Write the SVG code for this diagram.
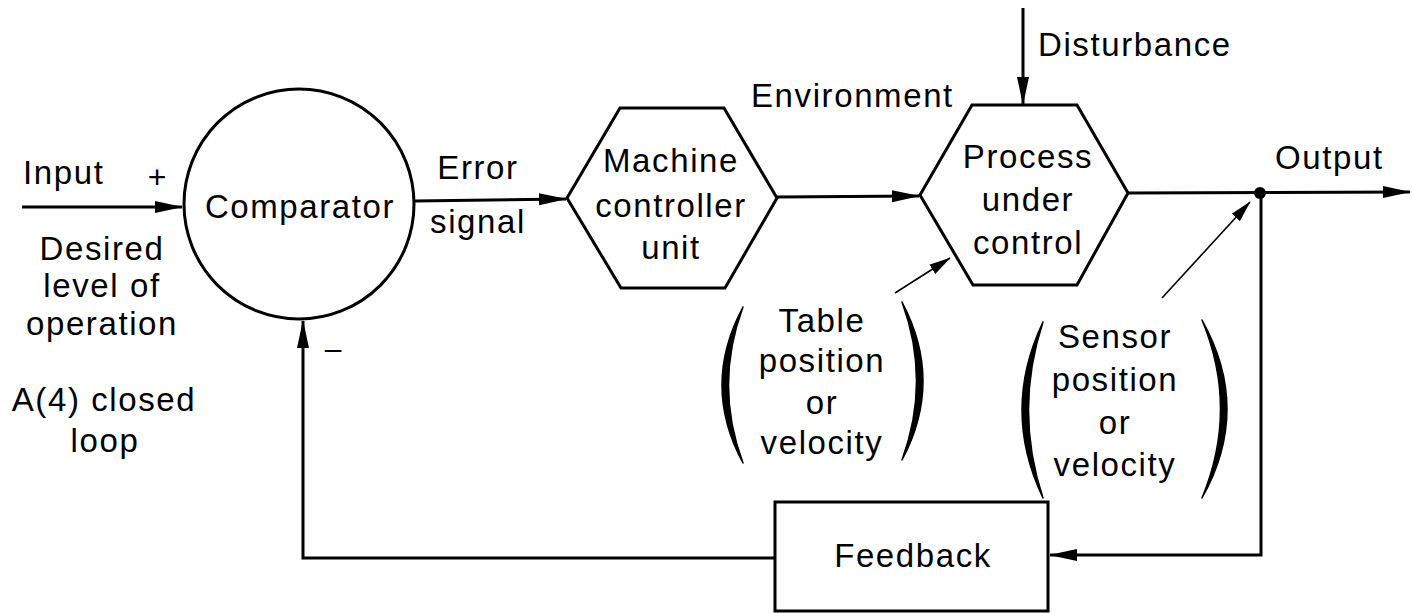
<svg xmlns="http://www.w3.org/2000/svg" width="1414" height="613" viewBox="0 0 1414 613">
  <style>
    .t { font-family: "Liberation Sans", Arial, sans-serif; font-size: 33px; letter-spacing: 1.6px; fill: #000; }
    .c { text-anchor: middle; }
    .shape { fill: none; stroke: #000; stroke-width: 3; }
    .line { fill: none; stroke: #000; stroke-width: 3; }
    .thin { fill: none; stroke: #000; stroke-width: 1.6; }
    .paren { fill: #000; stroke: #000; stroke-width: 1.5; stroke-linejoin: round; }
  </style>
  <defs>
    <marker id="arr" markerUnits="userSpaceOnUse" markerWidth="28" markerHeight="14" refX="27" refY="7" orient="auto">
      <path d="M0,1 L28,7 L0,13 Z" fill="#000"/>
    </marker>
    <marker id="arrThin" markerUnits="userSpaceOnUse" markerWidth="22" markerHeight="12" refX="21" refY="6" orient="auto">
      <path d="M0,0.5 L22,6 L0,11.5 Z" fill="#000"/>
    </marker>
  </defs>
  <rect width="1414" height="613" fill="#fff"/>

  <g id="connectors">
    <path class="line" d="M22,207 L182,207" marker-end="url(#arr)"/>
    <path class="line" d="M415,201 L566,199" marker-end="url(#arr)"/>
    <path class="line" d="M777,197 L919,196" marker-end="url(#arr)"/>
    <path class="line" d="M1128,193 L1410,192" marker-end="url(#arr)"/>
    <path class="line" d="M1023,8 L1023,104" marker-end="url(#arr)"/>
    <path class="line" d="M1261,193 L1261,555 L1050,555" marker-end="url(#arr)"/>
    <path class="line" d="M775,558 L303,558 L303,321" marker-end="url(#arr)"/>
    <path class="thin" d="M895,293 L950,258" marker-end="url(#arrThin)"/>
    <path class="thin" d="M1162,298 L1250,202" marker-end="url(#arrThin)"/>
    <circle cx="1260" cy="193" r="6" fill="#000"/>
  </g>

  <g id="comparator">
    <circle class="shape" cx="299" cy="204" r="115"/>
    <text class="t c" x="300" y="218">Comparator</text>
  </g>

  <g id="machine-controller">
    <polygon class="shape" points="567,198 620,108 724,108 777,198 725,288 621,288"/>
    <text class="t c" x="671" y="172">Machine</text>
    <text class="t c" x="671" y="217">controller</text>
    <text class="t c" x="671" y="259">unit</text>
  </g>

  <g id="process">
    <polygon class="shape" points="920,195 972,105 1077,105 1128,193 1077,285 973,285"/>
    <text class="t c" x="1028" y="168">Process</text>
    <text class="t c" x="1028" y="211">under</text>
    <text class="t c" x="1028" y="254">control</text>
  </g>

  <g id="feedback">
    <rect class="shape" x="775" y="502" width="273" height="109"/>
    <text class="t c" x="913" y="567">Feedback</text>
  </g>

  <g id="labels">
    <text class="t" x="23" y="184">Input</text>
    <text class="t c" x="158" y="188" style="font-size:32px">+</text>
    <text class="t c" x="102" y="260">Desired</text>
    <text class="t c" x="102" y="297">level of</text>
    <text class="t c" x="102" y="335">operation</text>
    <text class="t c" x="104" y="411">A(4) closed</text>
    <text class="t c" x="105" y="452">loop</text>
    <text class="t c" x="334" y="359" style="font-size:30px">–</text>
    <text class="t c" x="478" y="179">Error</text>
    <text class="t c" x="478" y="233">signal</text>
    <text class="t" x="751" y="107">Environment</text>
    <text class="t" x="1038" y="56">Disturbance</text>
    <text class="t" x="1275" y="169">Output</text>
  </g>

  <g id="table-note">
    <path class="paren" d="M743,307 Q701,385 743,463 Q714,385 743,307 Z"/>
    <path class="paren" d="M902,302 Q944,381 902,460 Q931,381 902,302 Z"/>
    <text class="t c" x="822" y="332">Table</text>
    <text class="t c" x="822" y="372">position</text>
    <text class="t c" x="822" y="414">or</text>
    <text class="t c" x="822" y="454">velocity</text>
  </g>

  <g id="sensor-note">
    <path class="paren" d="M1043,322 Q1001,410 1043,498 Q1014,410 1043,322 Z"/>
    <path class="paren" d="M1202,320 Q1252,409 1202,498 Q1239,409 1202,320 Z"/>
    <text class="t c" x="1115" y="348">Sensor</text>
    <text class="t c" x="1115" y="391">position</text>
    <text class="t c" x="1115" y="434">or</text>
    <text class="t c" x="1115" y="476">velocity</text>
  </g>
</svg>
